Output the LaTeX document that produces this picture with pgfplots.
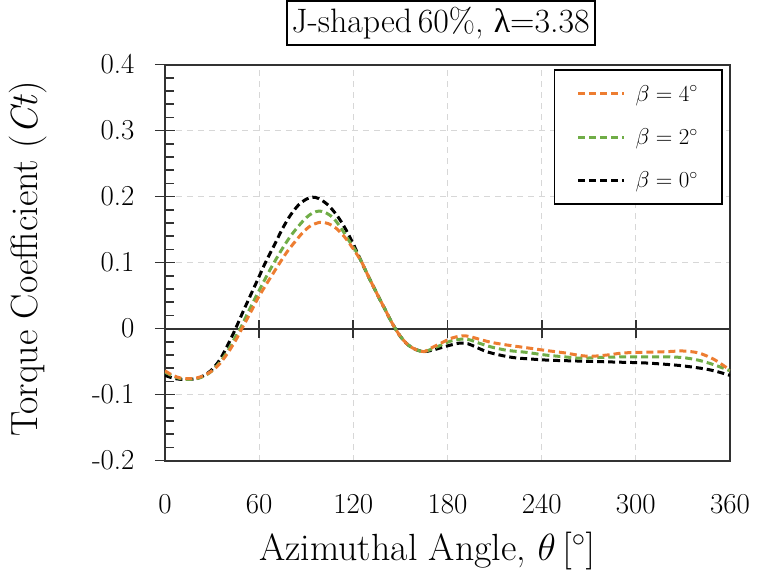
\RequirePackage{fix-cm}
\documentclass[border=0pt]{standalone}
\usepackage{fontspec}
\usepackage{pgfplots}
\pgfplotsset{compat=1.18}
\newfontfamily\lamfont{Liberation Serif}
\definecolor{corange}{RGB}{237,125,49}
\definecolor{cgreen}{RGB}{112,173,71}
\definecolor{gridgray}{RGB}{215,215,215}
\definecolor{spine}{RGB}{50,50,50}

\pgfplotstableread{
t c
0 -0.071
5 -0.075
10 -0.077
15 -0.077
20 -0.076
25 -0.071
30 -0.062
35 -0.047
40 -0.025
45 0.000
50 0.027
55 0.053
60 0.079
64 0.100
70 0.128
75 0.152
80 0.172
85 0.187
90 0.196
94 0.199
98 0.197
104 0.187
110 0.170
115 0.151
120 0.128
125 0.102
130 0.077
135 0.053
140 0.030
145 0.007
150 -0.012
155 -0.025
160 -0.032
165 -0.035
170 -0.033
176 -0.029
182 -0.025
188 -0.022
193 -0.023
198 -0.028
205 -0.035
213 -0.040
222 -0.044
232 -0.046
245 -0.048
260 -0.049
275 -0.050
290 -0.051
305 -0.052
318 -0.054
328 -0.056
338 -0.059
346 -0.062
353 -0.066
360 -0.071
}\blackdata

\pgfplotstableread{
t c
0 -0.066
5 -0.072
10 -0.076
15 -0.077
20 -0.076
25 -0.072
30 -0.064
35 -0.051
40 -0.034
45 -0.012
48 0.000
52 0.020
57 0.044
62 0.067
66 0.085
70 0.102
75 0.122
80 0.140
85 0.155
90 0.168
94 0.175
98 0.178
102 0.176
107 0.168
112 0.153
117 0.134
122 0.116
125 0.102
130 0.077
135 0.053
140 0.030
145 0.007
150 -0.012
155 -0.025
160 -0.032
165 -0.035
170 -0.031
176 -0.025
182 -0.019
189 -0.016
194 -0.017
200 -0.022
208 -0.028
218 -0.033
230 -0.036
242 -0.040
255 -0.043
265 -0.045
275 -0.044
290 -0.043
305 -0.043
320 -0.043
330 -0.044
340 -0.048
350 -0.055
360 -0.064
}\greendata

\pgfplotstableread{
t c
0 -0.064
5 -0.071
10 -0.075
15 -0.076
20 -0.075
25 -0.071
30 -0.064
35 -0.053
40 -0.037
45 -0.018
49 0.000
54 0.022
59 0.045
64 0.065
69 0.084
73 0.099
78 0.117
83 0.132
88 0.146
93 0.156
99 0.161
104 0.159
109 0.152
114 0.140
119 0.124
125 0.102
130 0.077
135 0.053
140 0.030
145 0.007
150 -0.012
155 -0.025
160 -0.032
165 -0.035
170 -0.029
176 -0.022
182 -0.015
189 -0.011
194 -0.012
200 -0.016
208 -0.021
218 -0.025
230 -0.029
242 -0.033
255 -0.037
265 -0.041
272 -0.042
282 -0.040
292 -0.037
305 -0.036
320 -0.035
330 -0.034
340 -0.037
350 -0.047
360 -0.063
}\orangedata

\begin{document}
\begin{tikzpicture}
\begin{axis}[
  name=ax, at={(0,0)}, anchor=south west,
  scale only axis, width=565bp, height=396bp,
  xmin=0, xmax=360, ymin=-0.2, ymax=0.4,
  xtick={0,60,120,180,240,300,360},
  xticklabels={0,60,120,180,240,300,360},
  ytick={-0.2,-0.1,0,0.1,0.2,0.3,0.4},
  yticklabels={-0.2,-0.1,0,0.1,0.2,0.3,0.4},
  minor y tick num=4,
  ytick pos=left,
  xtick style={draw=none},
  tick align=center,
  major tick length=20bp,
  minor tick length=9bp,
  ytick style={line width=1.6bp, draw=spine},
  minor tick style={xshift=4.5bp},
  axis line style={line width=2bp, spine},
  grid=major,
  major grid style={gridgray, line width=1bp, dash pattern=on 6bp off 5bp},
  ticklabel style={font=\fontsize{29}{32}\selectfont},
  xticklabel style={yshift=-20bp},
  yticklabel style={xshift=-17bp},
  xlabel={Azimuthal Angle, $\theta\,[^\circ]$},
  ylabel={Torque Coefficient (\textit{Ct})},
  label style={font=\fontsize{38}{42}\selectfont},
  xlabel style={at={(axis description cs:0.464,0)}, anchor=base, yshift=-100bp},
  ylabel style={at={(axis description cs:0,0.509)}, anchor=center, yshift=137bp},
  title={J-shaped\,60\%, {\lamfont λ}=3.38},
  title style={at={(axis description cs:0.488,1)}, anchor=south, yshift=13bp,
    draw=black, line width=1.6bp, inner xsep=5bp, inner ysep=6bp,
    font=\fontsize{34}{37}\selectfont},
  legend style={at={(rel axis cs:0.987,0.988)}, anchor=north east,
    draw=black, line width=1.6bp, font=\fontsize{23}{26}\selectfont,
    row sep=22bp, inner xsep=22bp, inner ysep=13bp,
    cells={anchor=west}},
  legend image code/.code={\draw[#1] (0bp,0bp) -- (46bp,0bp); \path (54bp,0bp);},
  reverse legend,
  every axis plot/.append style={line width=3bp, dash pattern=on 7bp off 4bp, smooth, tension=0.5, no marks},
]
\draw[line width=2bp, draw=spine] (axis cs:0,0) -- (axis cs:360,0);
\draw[line width=1.8bp, draw=spine]
  (axis cs:60,-0.0136) -- (axis cs:60,0.0136)
  (axis cs:120,-0.0136) -- (axis cs:120,0.0136)
  (axis cs:180,-0.0136) -- (axis cs:180,0.0136)
  (axis cs:240,-0.0136) -- (axis cs:240,0.0136)
  (axis cs:300,-0.0136) -- (axis cs:300,0.0136);
\addplot[black] table[x=t,y=c] {\blackdata};
\addlegendentry{$\beta = 0^\circ$}
\addplot[cgreen] table[x=t,y=c] {\greendata};
\addlegendentry{$\beta = 2^\circ$}
\addplot[corange] table[x=t,y=c] {\orangedata};
\addlegendentry{$\beta = 4^\circ$}
\end{axis}
\path[use as bounding box] (-165bp,-111bp) rectangle (593bp,455bp);
\end{tikzpicture}
\end{document}
